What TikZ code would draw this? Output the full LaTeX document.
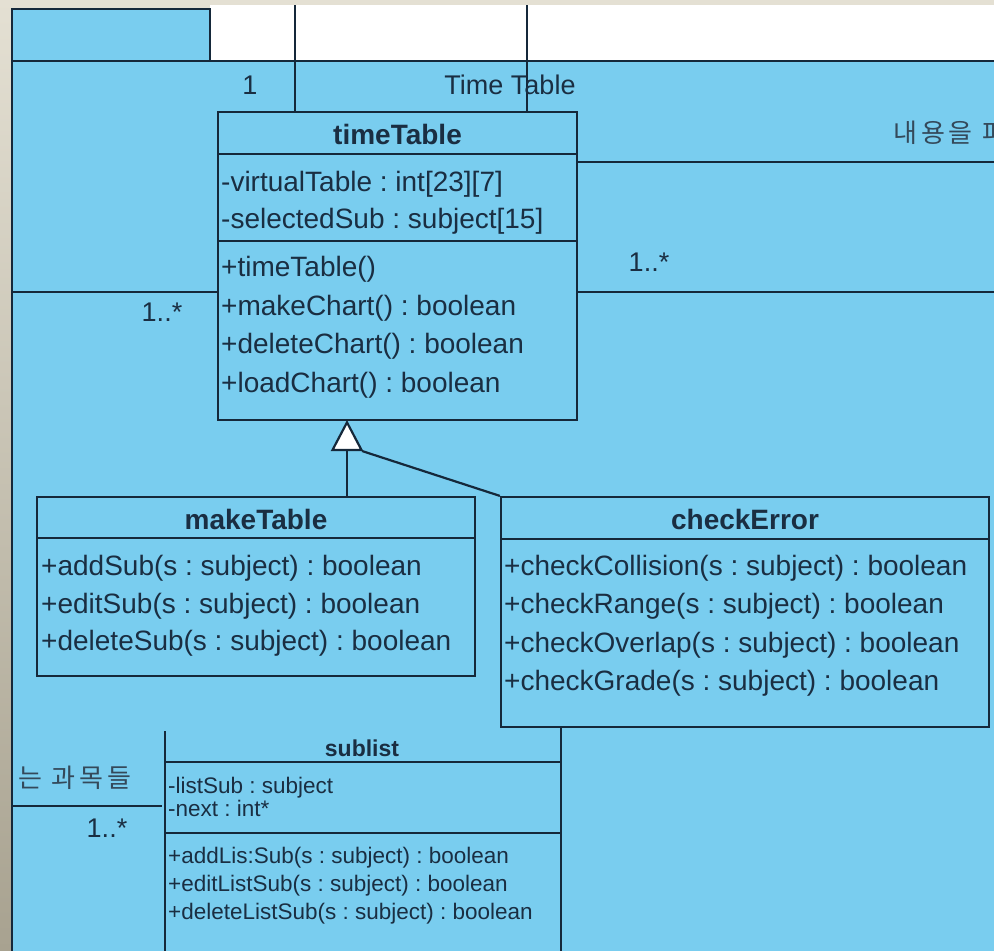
\documentclass[tikz,border=0pt]{standalone}
\usepackage{fontspec}
\setmainfont{Liberation Sans}
\newfontfamily\krfont{Noto Sans CJK KR}
\usetikzlibrary{arrows.meta}
\definecolor{bgblue}{HTML}{79CDEF}
\definecolor{ink}{HTML}{15283A}
\definecolor{txt}{HTML}{1A2E42}
\definecolor{krtxt}{HTML}{34495A}
\definecolor{beige}{HTML}{E4E0D3}
\definecolor{beigedark}{HTML}{A8A290}
\frenchspacing
\begin{document}
\begin{tikzpicture}[x=1pt,y=-1pt,
  edge/.style={draw=ink,line width=2.2pt},
  classbox/.style={draw=ink,line width=2.2pt,fill=bgblue,rectangle,inner sep=0pt},
  mem/.style={text=txt,inner sep=0pt,anchor=base west,font=\fontsize{28}{32}\selectfont},
  head/.style={text=txt,inner sep=0pt,font=\fontsize{28}{32}\selectfont\bfseries},
  smem/.style={text=txt,inner sep=0pt,anchor=base west,font=\fontsize{22.5}{26}\selectfont},
  shead/.style={text=txt,inner sep=0pt,font=\fontsize{23}{26}\selectfont\bfseries},
  lbl/.style={text=txt,inner sep=0pt,font=\fontsize{27}{30}\selectfont},
  kr/.style={text=krtxt,inner sep=0pt,anchor=west,font=\krfont\fontsize{26}{28}\selectfont\addfontfeatures{LetterSpace=15}}
]
\useasboundingbox (0,0) rectangle (994,951);
\begin{scope}
\clip (0,0) rectangle (994,951);
% background
\fill[beige] (0,0) rectangle (994,951);
\shade[top color=beige,bottom color=beigedark] (0,0) rectangle (12,951);
\fill[white] (210,5) rectangle (994,61);
\fill[bgblue] (12,9) -- (210,9) -- (210,61) -- (994,61) -- (994,951) -- (12,951) -- cycle;
% frame lines
\coordinate (tabTL) at (12,9);
\coordinate (tabTR) at (210,9);
\coordinate (tabBR) at (210,61);
\coordinate (frBL) at (12,951);
\coordinate (hL) at (12,61);
\coordinate (hR) at (994,61);
\draw[edge] (frBL) -- (tabTL) -- (tabTR) -- (tabBR);
\draw[edge] (hL) -- (hR);

% timeTable class
\node[classbox,minimum width=359,minimum height=308] (tt) at (397.5,266) {};
\coordinate (ttd1L) at (218,154); \coordinate (ttd1R) at (577,154);
\coordinate (ttd2L) at (218,241); \coordinate (ttd2R) at (577,241);
\draw[edge] (ttd1L) -- (ttd1R);
\draw[edge] (ttd2L) -- (ttd2R);
\node[head] (ttH) at (397.5,134) {timeTable};
\node[mem] (tta1) at (221,191) {-virtualTable : int[23][7]};
\node[mem] (tta2) at (221,228) {-selectedSub : subject[15]};
\node[mem] (ttm1) at (221,276) {+timeTable()};
\node[mem] (ttm2) at (221,315) {+makeChart() : boolean};
\node[mem] (ttm3) at (221,353) {+deleteChart() : boolean};
\node[mem] (ttm4) at (221,392) {+loadChart() : boolean};

% connectors around timeTable
\coordinate (v1) at (295,5);
\coordinate (v2) at (527,5);
\draw[edge] (v1) -- (v1 |- tt.north);
\draw[edge] (v2) -- (v2 |- tt.north);
\coordinate (r1) at (994,162);
\coordinate (r2) at (994,292);
\coordinate (l2) at (12,292);
\draw[edge] (tt.east |- r1) -- (r1);
\draw[edge] (tt.east |- r2) -- (r2);
\draw[edge] (l2) -- (tt.west |- l2);
\node[lbl] (m1) at (250,85) {1};
\node[lbl] (ttl) at (510,85) {Time Table};
\node[lbl] (m2) at (162,312) {1..*};
\node[lbl] (m3) at (649,262) {1..*};
\node[kr] (k1) at (893,133) {내용을 파};

% makeTable
\node[classbox,minimum width=438,minimum height=179] (mt) at (256,586.5) {};
\coordinate (mtdL) at (37,538); \coordinate (mtdR) at (475,538);
\draw[edge] (mtdL) -- (mtdR);
\node[head] (mtH) at (256,519) {makeTable};
\node[mem] (mtm1) at (41,575) {+addSub(s : subject) : boolean};
\node[mem] (mtm2) at (41,613) {+editSub(s : subject) : boolean};
\node[mem] (mtm3) at (41,650) {+deleteSub(s : subject) : boolean};

% checkError
\node[classbox,minimum width=488,minimum height=230] (ce) at (745,612) {};
\coordinate (cedL) at (501,539); \coordinate (cedR) at (989,539);
\draw[edge] (cedL) -- (cedR);
\node[head] (ceH) at (745,519) {checkError};
\node[mem] (cem1) at (504,575) {+checkCollision(s : subject) : boolean};
\node[mem] (cem2) at (504,613) {+checkRange(s : subject) : boolean};
\node[mem] (cem3) at (504,652) {+checkOverlap(s : subject) : boolean};
\node[mem] (cem4) at (504,690) {+checkGrade(s : subject) : boolean};

% generalization
\coordinate (tip) at (347,420);
\coordinate (mtTop) at (347,497);
\coordinate (triR) at (362,451);
\draw[edge] (ce.north west) -- (triR);
\draw[edge,-{Triangle[length=31pt,width=32pt,fill=white,line join=miter]}] (mtTop) -- (tip);

% sublist
\coordinate (slTL) at (165,731);
\coordinate (slBL) at (165,951);
\coordinate (slTR) at (561,727);
\coordinate (slBR) at (561,951);
\draw[edge] (slTL) -- (slBL);
\draw[edge] (slTR) -- (slBR);
\coordinate (sld1L) at (165,762); \coordinate (sld1R) at (561,762);
\coordinate (sld2L) at (165,833); \coordinate (sld2R) at (561,833);
\draw[edge] (sld1L) -- (sld1R);
\draw[edge] (sld2L) -- (sld2R);
\node[shead] (slH) at (362,748) {sublist};
\node[smem] (sla1) at (168,793) {-listSub : subject};
\node[smem] (sla2) at (168,816) {-next : int*};
\node[smem] (slm1) at (168,863) {+addLis:Sub(s : subject) : boolean};
\node[smem] (slm2) at (168,891) {+editListSub(s : subject) : boolean};
\node[smem] (slm3) at (168,919) {+deleteListSub(s : subject) : boolean};

% left association to sublist
\coordinate (l3) at (12,806);
\draw[edge] (l3) -- (l3 -| 162,0);
\node[kr] (k2) at (18,778) {는 과목들};
\node[lbl] (m4) at (107,828) {1..*};
\end{scope}
\end{tikzpicture}
\end{document}
